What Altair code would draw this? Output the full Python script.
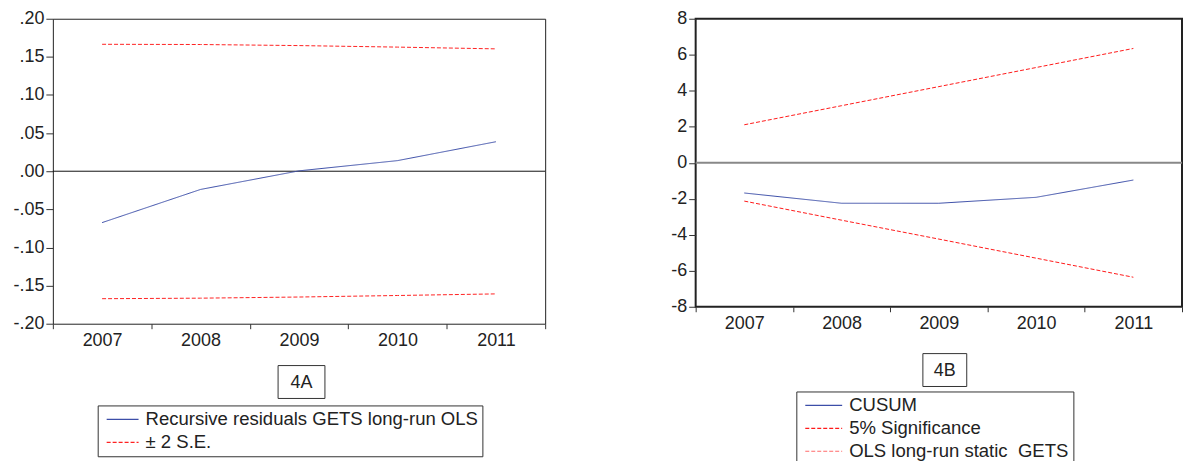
import altair as alt
import pandas as pd

years = [2007, 2008, 2009, 2010, 2011]

# 4A: recursive residuals and +/- 2 S.E. band
resid = [-0.0674, -0.0239, 0.0005, 0.0139, 0.0387]
se_upper = [0.1665, 0.1662, 0.1648, 0.1628, 0.1605]
se_lower = [-0.1672, -0.1665, -0.1650, -0.1630, -0.1609]
a_ticks = [-0.20, -0.15, -0.10, -0.05, 0.0, 0.05, 0.10, 0.15, 0.20]
a_labels = ["Recursive residuals GETS long-run OLS", "± 2 S.E."]

# 4B: CUSUM and 5% significance lines
cusum = [-1.68, -2.25, -2.25, -1.92, -0.96]
sig_upper = [2.11, 3.17, 4.23, 5.29, 6.35]
sig_lower = [-2.13, -3.19, -4.24, -5.30, -6.36]
b_ticks = [-8, -6, -4, -2, 0, 2, 4, 6, 8]
b_labels = ["CUSUM", "5% Significance", "OLS long-run static\u00a0 GETS"]

FONT = "Liberation Sans"


def long_df(rows):
    return pd.concat(
        [pd.DataFrame({"year": years, "value": v, "series": s, "line": n}) for v, s, n in rows],
        ignore_index=True,
    )


def x_enc():
    return alt.X(
        "year:O",
        title=None,
        bandPosition=0.5,
        scale=alt.Scale(type="band", paddingInner=0, paddingOuter=0),
        axis=alt.Axis(labelAngle=0, tickBand="extent", tickSize=5, labelPadding=3, domain=False),
    )


def y_enc(ticks, label_expr):
    return alt.Y(
        "value:Q",
        title=None,
        scale=alt.Scale(domain=[ticks[0], ticks[-1]], nice=False, zero=False),
        axis=alt.Axis(values=ticks, labelExpr=label_expr, tickSize=7, labelPadding=2, labelOverlap=False,
                      domain=False, grid=False, minExtent=44, maxExtent=44),
    )


def legend(x, y, sym_path, offset):
    # long stroke sample drawn as a path, so the rows stay compact
    return alt.Legend(
        title=None, orient="none", legendX=x, legendY=y, symbolType=sym_path,
        symbolSize=324, symbolStrokeWidth=1.2, labelLimit=600, rowPadding=3,
        padding=4, labelOffset=offset,
    )


def panel(df, ticks, label_expr, labels, colors, dashes, tag, w, h, leg, tag_box, zero_color, zero_w, frame_w):
    lines = (
        alt.Chart(df)
        .mark_line(strokeWidth=1)
        .encode(
            x=x_enc(),
            y=y_enc(ticks, label_expr),
            detail="line:N",
            color=alt.Color("series:N", scale=alt.Scale(domain=labels, range=colors), legend=legend(*leg)),
            strokeDash=alt.StrokeDash("series:N", scale=alt.Scale(domain=labels, range=dashes), legend=legend(*leg)),
        )
    )
    zero = (
        alt.Chart(pd.DataFrame({"value": [0]}))
        .mark_rule(color=zero_color, strokeWidth=zero_w)
        .encode(y=y_enc(ticks, label_expr))
    )
    tag_df = alt.Chart(pd.DataFrame({"t": [tag]}))
    x0, x1, y0, y1 = tag_box
    box = tag_df.mark_rect(fill="white", stroke="#333", strokeWidth=1).encode(
        x=alt.value(x0), x2=alt.value(x1), y=alt.value(y0), y2=alt.value(y1)
    )
    txt = tag_df.mark_text(font=FONT, fontSize=18, color="#222").encode(
        x=alt.value((x0 + x1) / 2), y=alt.value((y0 + y1) / 2 + 1), text="t:N"
    )
    return alt.layer(zero, lines, box, txt).properties(
        width=w, height=h, view=alt.ViewBackground(stroke="#222", strokeWidth=frame_w)
    )


df_a = long_df([
    (resid, a_labels[0], "resid"),
    (se_upper, a_labels[1], "upper"),
    (se_lower, a_labels[1], "lower"),
])
df_b = long_df([
    (cusum, b_labels[0], "cusum"),
    (sig_upper, b_labels[1], "upper"),
    (sig_lower, b_labels[1], "lower"),
])

left = panel(
    df_a, a_ticks, "replace(replace(format(datum.value, '.2f'), '0.', '.'), '\u2212', '-')", a_labels,
    ["#3c4ea8", "#ff2222"], [[1, 0], [4, 2]], "4A", 494, 306,
    (45, 388, "M-0.556,0H3", 24),
    (226, 273, 348, 381), "#111", 1, 1,
)
right = panel(
    df_b, b_ticks, "replace(format(datum.value, 'd'), '\u2212', '-')", b_labels,
    ["#3c4ea8", "#ff1a1a", "#ff6b6b"], [[1, 0], [4, 2], [4, 2]], "4B", 488, 289,
    (101, 374, "M-0.556,0H3.556", 29),
    (228, 272, 336, 369), "#888", 2, 2,
)

chart = (
    alt.hconcat(left, right, spacing=105)
    .resolve_scale(color="independent", strokeDash="independent")
    .properties(padding=0)
    .configure_axis(labelFont=FONT, labelFontSize=18, labelColor="#222", tickColor="#333")
    .configure_legend(
        labelFont=FONT, labelFontSize=18.6, labelColor="#222", strokeColor="#333",
        fillColor="white", cornerRadius=0,
    )
)

chart.save("out.html", embed_options={"renderer": "svg", "actions": False})
